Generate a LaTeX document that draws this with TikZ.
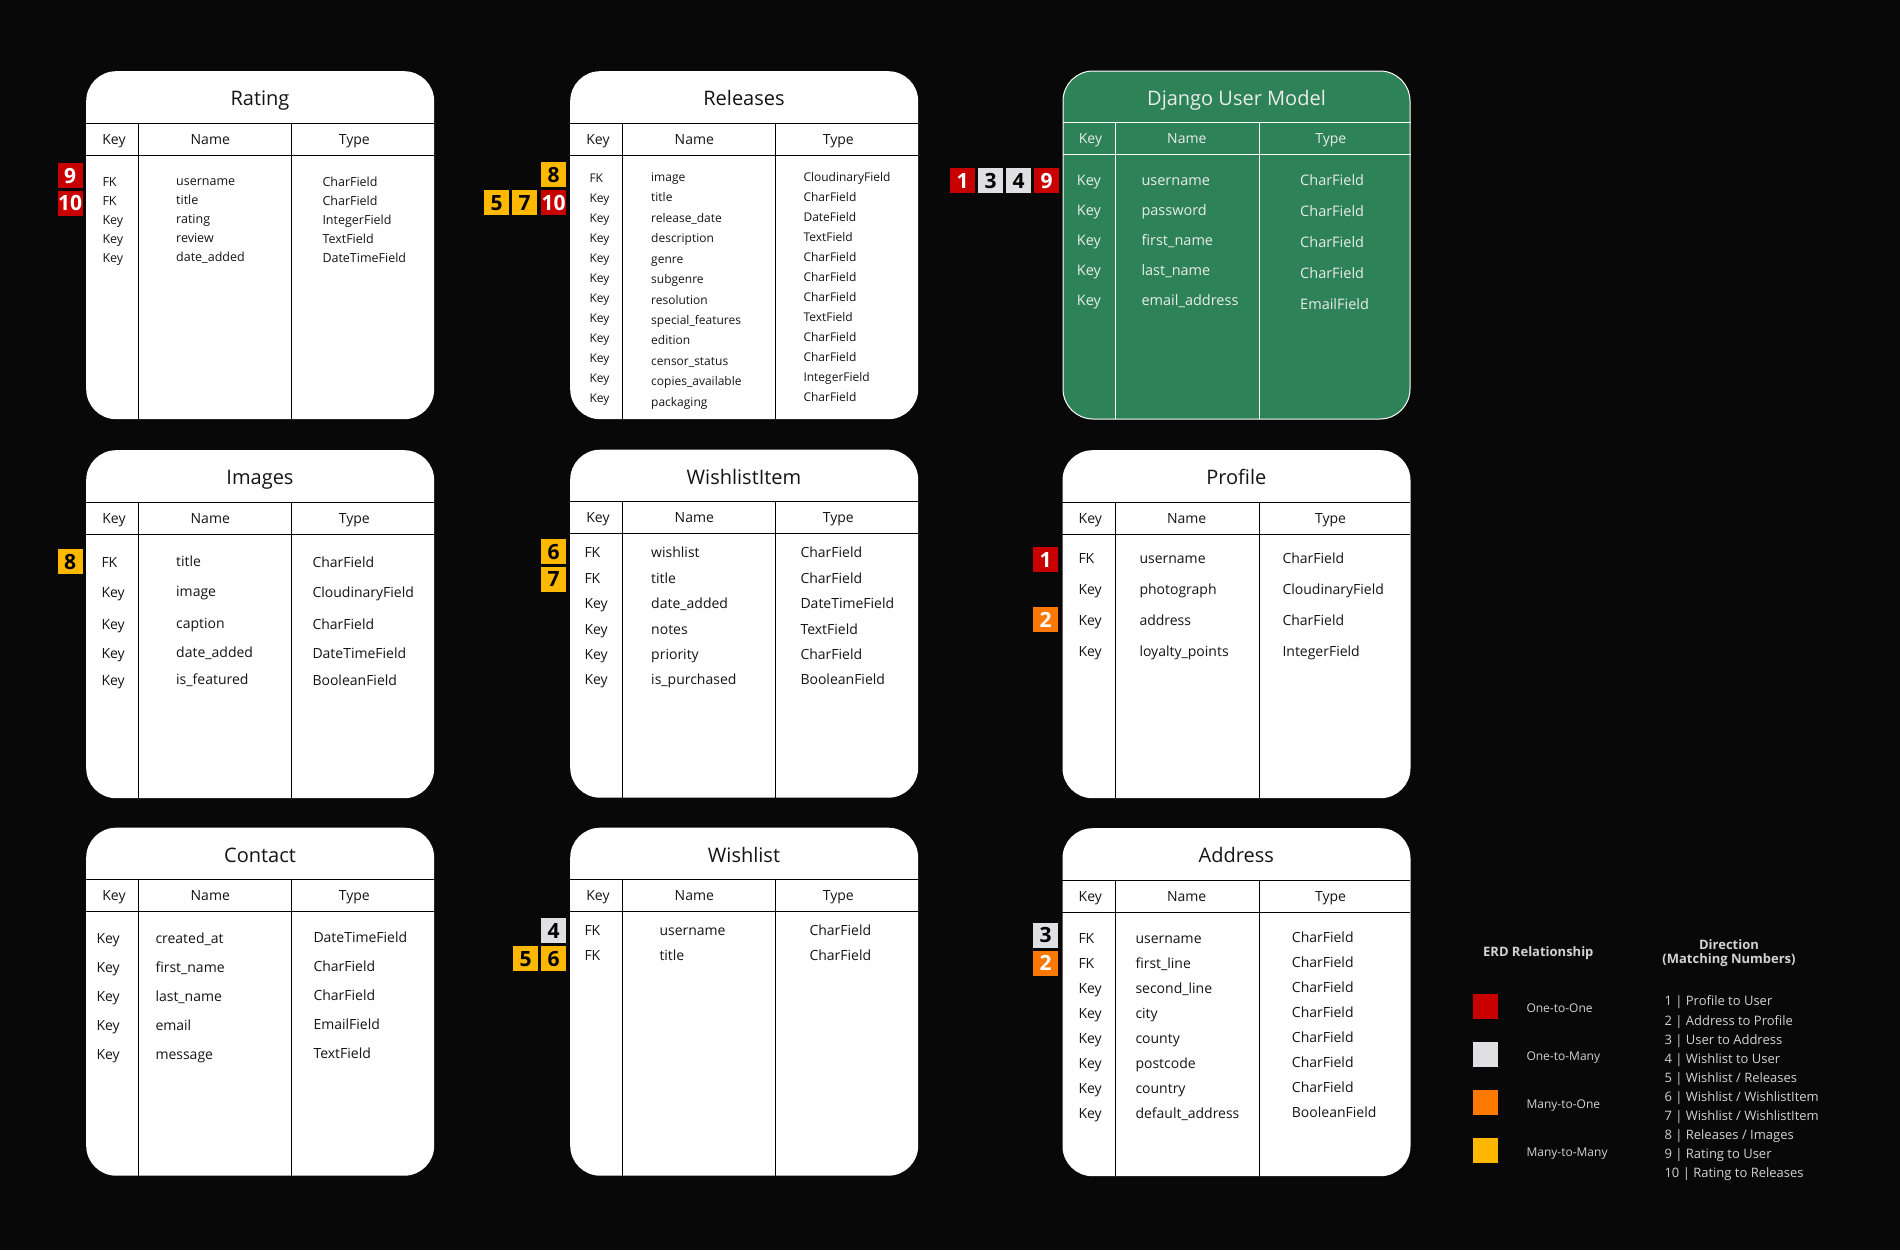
\documentclass[tikz,border=0pt]{standalone}
\usepackage{fontspec}
\setmainfont{Open Sans}
\usetikzlibrary{calc}
\definecolor{bg}{HTML}{080808}
\definecolor{djgreen}{RGB}{46,130,87}
\definecolor{djtext}{RGB}{232,236,234}
\definecolor{ored}{RGB}{200,0,0}
\definecolor{ogray}{RGB}{224,224,226}
\definecolor{oorange}{RGB}{255,120,0}
\definecolor{oyellow}{RGB}{255,184,0}
\definecolor{legtext}{RGB}{210,210,210}
\definecolor{ink}{RGB}{20,20,20}
\newcommand\fsz[1]{\fontsize{#1}{#1}\selectfont}
\tikzset{
  x=1pt, y=-1pt,
  wbox/.style={fill=white, rounded corners=30pt, minimum width=348pt, minimum height=348pt, inner sep=0pt},
  gbox/.style={fill=djgreen, draw=white, line width=1pt, rounded corners=30pt, minimum width=347pt, minimum height=348pt, inner sep=0pt},
  wline/.style={draw=black, line width=1.2pt},
  gline/.style={draw=white, line width=1.2pt},
  wtitle/.style={text=ink, font=\fsz{20}, inner sep=0pt, text height=14.4pt, text depth=0pt},
  gtitle/.style={text=djtext, font=\fsz{20}, inner sep=0pt, text height=14.4pt, text depth=0pt},
  whead/.style={text=ink, font=\fsz{14}, inner sep=0pt, text height=10pt, text depth=0pt},
  ghead/.style={text=djtext, font=\fsz{14}, inner sep=0pt, text height=10pt, text depth=0pt},
  wcell/.style={text=ink, anchor=west, inner sep=0pt, text height=0.72em, text depth=0pt, yshift=-2pt},
  gcell/.style={text=djtext, anchor=west, inner sep=0pt, text height=0.72em, text depth=0pt, yshift=-2.2pt},
  badge/.style={minimum size=25pt, inner sep=0pt, anchor=north west, font=\bfseries\fsz{21}, text height=15pt, text depth=0pt},
  rbadge/.style={badge, fill=ored, text=white},
  obadge/.style={badge, fill=oorange, text=white},
  ybadge/.style={badge, fill=oyellow, text=black},
  gbadge/.style={badge, fill=ogray, text=black},
  legsq/.style={minimum size=25pt, inner sep=0pt, anchor=north west},
  legtxt/.style={text=legtext, anchor=west, inner sep=0pt, font=\fsz{12}, text height=8.6pt, text depth=0pt, yshift=-1pt},
  dirtxt/.style={text=legtext, anchor=west, inner sep=0pt, font=\fsz{13}, text height=9.3pt, text depth=0pt, yshift=-2pt},
  leghead/.style={text=legtext, inner sep=0pt, font=\bfseries\fsz{13}, align=center},
}
% #1 id, #2 x, #3 y, #4 title, #5 variant (w/g), #6 divider 1, #7 divider 2
\newcommand\erdtable[7]{%
  \node[#5box, anchor=north west] (#1) at (#2,#3) {};
  \node[#5title] (#1-title) at (#2+174,#3+27.5) {#4};
  \draw[#5line] (#2,#3+52.3) -- (#2+348,#3+52.3);
  \draw[#5line] (#2,#3+84.3) -- (#2+348,#3+84.3);
  \draw[#5line] (#2+#6,#3+52.3) -- (#2+#6,#3+348);
  \draw[#5line] (#2+#7,#3+52.3) -- (#2+#7,#3+348);
  \node[#5head] (#1-hk) at (#2+28,#3+68.2) {Key};
  \node[#5head] (#1-hn) at (#2+124.3,#3+68.2) {Name};
  \node[#5head] (#1-ht) at (#2+268.3,#3+68.2) {Type};
}
\begin{document}
\begin{tikzpicture}
\useasboundingbox[fill=bg] (0,0) rectangle (1900,1250);

% ---------------- Row 1 ----------------
\erdtable{rat}{86}{71}{Rating}{w}{52.3}{205.3}
\foreach \k/\n/\t/\yy [count=\i] in {FK/username/CharField/180.7, FK/title/CharField/199.5, Key/rating/IntegerField/218.7, Key/review/TextField/237.7, Key/date\_added/DateTimeField/256.7}{
  \node[wcell, font=\fsz{12.5}] (rat-k\i) at (102.3,\yy) {\k};
  \node[wcell, font=\fsz{12.5}] (rat-n\i) at (176,\yy-1) {\n};
  \node[wcell, font=\fsz{12.5}] (rat-t\i) at (322.3,\yy) {\t};
}

\erdtable{rel}{570}{71}{Releases}{w}{52.3}{205.5}
\foreach \k/\n/\t [count=\i] in {FK/image/CloudinaryField, Key/title/CharField, Key/release\_date/DateField, Key/description/TextField, Key/genre/CharField, Key/subgenre/CharField, Key/resolution/CharField, Key/special\_features/TextField, Key/edition/CharField, Key/censor\_status/CharField, Key/copies\_available/IntegerField, Key/packaging/CharField}{
  \node[wcell, font=\fsz{12}] (rel-k\i) at (589.3,176.7+20*\i-20) {\k};
  \node[wcell, font=\fsz{12}] (rel-n\i) at (651,175.7+20.45*\i-20.45) {\n};
  \node[wcell, font=\fsz{12}] (rel-t\i) at (803.3,175.7+20*\i-20) {\t};
}

\erdtable{usr}{1062.5}{70.5}{Django User Model}{g}{53}{197}
\foreach \n/\t [count=\i] in {username/CharField, password/CharField, first\_name/CharField, last\_name/CharField, email\_address/EmailField}{
  \node[gcell, font=\fsz{14.5}] (usr-k\i) at (1076.7,179.3+30*\i-30) {Key};
  \node[gcell, font=\fsz{14.5}] (usr-n\i) at (1141.3,179.3+30*\i-30) {\n};
  \node[gcell, font=\fsz{14.5}] (usr-t\i) at (1300,179.3+31*\i-31) {\t};
}

% ---------------- Row 2 ----------------
\erdtable{img}{86}{450}{Images}{w}{52.3}{205.3}
\foreach \k/\n/\t/\yy [count=\i] in {FK/title/CharField/562.3, Key/image/CloudinaryField/592.3, Key/caption/CharField/623.7, Key/date\_added/DateTimeField/652.7, Key/is\_featured/BooleanField/680}{
  \node[wcell, font=\fsz{14}] (img-k\i) at (101.3,\yy) {\k};
  \node[wcell, font=\fsz{14}] (img-n\i) at (176,\yy-1) {\n};
  \node[wcell, font=\fsz{14}] (img-t\i) at (312.3,\yy) {\t};
}

\erdtable{wli}{570}{449.5}{WishlistItem}{w}{52.3}{205.5}
\foreach \k/\n/\t/\yy [count=\i] in {FK/wishlist/CharField/552.3, FK/title/CharField/577.7, Key/date\_added/DateTimeField/603.3, Key/notes/TextField/629, Key/priority/CharField/654, Key/is\_purchased/BooleanField/679}{
  \node[wcell, font=\fsz{14}] (wli-k\i) at (584.3,\yy) {\k};
  \node[wcell, font=\fsz{14}] (wli-n\i) at (651,\yy) {\n};
  \node[wcell, font=\fsz{14}] (wli-t\i) at (800.3,\yy) {\t};
}

\erdtable{pro}{1062.3}{450}{Profile}{w}{53}{197}
\foreach \k/\n/\t/\yy [count=\i] in {FK/username/CharField/558.3, Key/photograph/CloudinaryField/589.3, Key/address/CharField/620.3, Key/loyalty\_points/IntegerField/651}{
  \node[wcell, font=\fsz{14}] (pro-k\i) at (1078.3,\yy) {\k};
  \node[wcell, font=\fsz{14}] (pro-n\i) at (1139.3,\yy) {\n};
  \node[wcell, font=\fsz{14}] (pro-t\i) at (1282.3,\yy) {\t};
}

% ---------------- Row 3 ----------------
\erdtable{con}{86}{827.5}{Contact}{w}{52.3}{205.3}
\foreach \n/\t [count=\i] in {created\_at/DateTimeField, first\_name/CharField, last\_name/CharField, email/EmailField, message/TextField}{
  \node[wcell, font=\fsz{14}] (con-k\i) at (96.3,938.3+29*\i-29) {Key};
  \node[wcell, font=\fsz{14}] (con-n\i) at (155.3,938.3+29*\i-29) {\n};
  \node[wcell, font=\fsz{14}] (con-t\i) at (313.3,937.3+29*\i-29) {\t};
}

\erdtable{wsh}{570}{827.5}{Wishlist}{w}{52.5}{205.3}
\foreach \k/\n/\t/\yy [count=\i] in {FK/username/CharField/930.3, FK/title/CharField/955.3}{
  \node[wcell, font=\fsz{14}] (wsh-k\i) at (584.3,\yy) {\k};
  \node[wcell, font=\fsz{14}] (wsh-n\i) at (659.3,\yy) {\n};
  \node[wcell, font=\fsz{14}] (wsh-t\i) at (809.3,\yy) {\t};
}

\erdtable{adr}{1062.3}{828}{Address}{w}{53}{197}
\foreach \k/\n/\t [count=\i] in {FK/username/CharField, FK/first\_line/CharField, Key/second\_line/CharField, Key/city/CharField, Key/county/CharField, Key/postcode/CharField, Key/country/CharField, Key/default\_address/BooleanField}{
  \node[wcell, font=\fsz{14}] (adr-k\i) at (1078.3,938.3+24.9*\i-24.9) {\k};
  \node[wcell, font=\fsz{14}] (adr-n\i) at (1135.3,938.3+24.9*\i-24.9) {\n};
  \node[wcell, font=\fsz{14}] (adr-t\i) at (1291.7,937.3+24.9*\i-24.9) {\t};
}

% ---------------- Badges ----------------
\node[rbadge] (b-rat9) at (57.3,163) {9};
\node[rbadge] (b-rat10) at (57.3,190.7) {10};
\node[ybadge] (b-rel8) at (541,162) {8};
\node[ybadge] (b-rel5) at (484,190) {5};
\node[ybadge] (b-rel7) at (512,190) {7};
\node[rbadge] (b-rel10) at (541,190) {10};
\node[rbadge] (b-usr1) at (950,168) {1};
\node[gbadge] (b-usr3) at (978,168) {3};
\node[gbadge] (b-usr4) at (1006,168) {4};
\node[rbadge] (b-usr9) at (1034,168) {9};
\node[ybadge] (b-img8) at (57.3,549) {8};
\node[ybadge] (b-wli6) at (541,539) {6};
\node[ybadge] (b-wli7) at (541,566.7) {7};
\node[rbadge] (b-pro1) at (1033,547) {1};
\node[obadge] (b-pro2) at (1033,607) {2};
\node[gbadge] (b-wsh4) at (541,918) {4};
\node[ybadge] (b-wsh5) at (513,946) {5};
\node[ybadge] (b-wsh6) at (541,946) {6};
\node[gbadge] (b-adr3) at (1033,922.3) {3};
\node[obadge] (b-adr2) at (1033,950.3) {2};

% ---------------- Legend ----------------
\node[leghead] (leg-erd) at (1538.3,953.3) {ERD Relationship};
\node[leghead] (leg-dir) at (1729,953) {Direction\\[1pt](Matching Numbers)};
\foreach \c/\t [count=\i] in {ored/One-to-One, ogray/One-to-Many, oorange/Many-to-One, oyellow/Many-to-Many}{
  \node[legsq, fill=\c] (leg-sq\i) at (1473,994+48*\i-48) {};
  \node[legtxt] (leg-t\i) at (1526.3,1006.7+48*\i-48) {\t};
}
\foreach \t [count=\i] in {1 | Profile to User, 2 | Address to Profile, 3 | User to Address, 4 | Wishlist to User, 5 | Wishlist / Releases, 6 | Wishlist / WishlistItem, 7 | Wishlist / WishlistItem, 8 | Releases / Images, 9 | Rating to User, 10 | Rating to Releases}{
  \node[dirtxt] (dir-\i) at (1664.3,999.3+19.05*\i-19.05) {\t};
}
\end{tikzpicture}
\end{document}
